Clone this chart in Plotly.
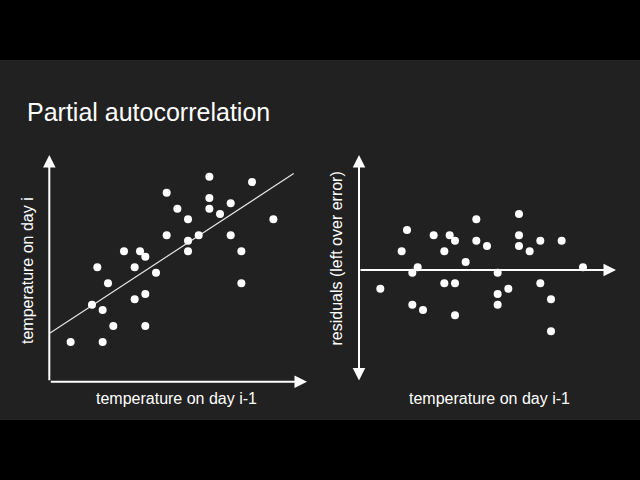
import plotly.graph_objects as go

# temperature on day i-1 (same x for both panels, arbitrary units)
temp_prev = [4, 8, 9, 10, 10, 11, 12, 14, 16, 16, 17, 18, 18, 18, 20, 22,
             22, 24, 26, 26, 26, 28, 30, 30, 30, 32, 34, 34, 36, 36, 38, 42]
# temperature on day i (left panel)
temp_today = [9, 16, 23, 9, 15, 20, 12, 26, 17, 23, 26, 12, 18, 25, 22, 29,
              37, 34, 28, 26, 32, 29, 40, 36, 34, 33, 35, 29, 26, 20, 39, 32]
# residuals (right panel)
residuals = [-3.5, 3.5, 7.5, -0.5, -6.5, 0.5, -7.5, 6.5, 3.5, -2.5, 6.5, 5.5,
             -2.5, -8.5, 1.5, 9.5, 5.5, 4.5, -0.5, -4.5, -6.5, -3.5, 10.5, 6.5,
             4.5, 3.5, 5.5, -2.5, -5.5, -11.5, 5.5, 0.5]
# fitted line
fit_x = [0, 45.8]
fit_y = [10.6, 40.6]

BG = "#212121"
FONT = "Liberation Sans, Arial, sans-serif"

fig = go.Figure()

fig.add_trace(go.Scatter(x=fit_x, y=fit_y, mode="lines",
                         line=dict(color="#e6e6e6", width=1.2),
                         xaxis="x", yaxis="y", hoverinfo="skip"))
fig.add_trace(go.Scatter(x=temp_prev, y=temp_today, mode="markers",
                         marker=dict(color="white", size=8),
                         xaxis="x", yaxis="y"))
fig.add_trace(go.Scatter(x=temp_prev, y=residuals, mode="markers",
                         marker=dict(color="white", size=8),
                         xaxis="x2", yaxis="y2"))

hidden = dict(visible=False, fixedrange=True)
fig.update_layout(
    width=640, height=480,
    margin=dict(l=0, r=0, t=0, b=0),
    paper_bgcolor="black",
    plot_bgcolor="rgba(0,0,0,0)",
    showlegend=False,
    font=dict(family=FONT, color="white"),
    xaxis=dict(domain=[49.3 / 640, 307 / 640], range=[0, 48.3], **hidden),
    yaxis=dict(domain=[1 - 381.7 / 480, 1 - 155 / 480], range=[1.56, 44.07], **hidden),
    xaxis2=dict(domain=[359 / 640, 616 / 640], range=[0, 48.19], **hidden),
    yaxis2=dict(domain=[1 - 382 / 480, 1 - 155 / 480], range=[-21.0, 21.56], **hidden),
)

# dark slide background between the letterbox bars
fig.add_shape(type="rect", xref="paper", yref="paper",
              x0=0, x1=1, y0=1 - 420 / 480, y1=1 - 60 / 480,
              fillcolor=BG, line_width=0, layer="below")

arrow = dict(text="", showarrow=True, arrowhead=2, arrowsize=1.25,
             arrowwidth=2, arrowcolor="white", standoff=0)

# left panel axes
fig.add_annotation(x=0, y=44.07, ax=0, ay=1.56, xref="x", yref="y",
                   axref="x", ayref="y", **arrow)
fig.add_annotation(x=48.3, y=1.56, ax=0, ay=1.56, xref="x", yref="y",
                   axref="x", ayref="y", **arrow)
# right panel axes
fig.add_annotation(x=0, y=21.56, ax=0, ay=-21.0, xref="x2", yref="y2",
                   axref="x2", ayref="y2", arrowside="end+start", **arrow)
fig.add_annotation(x=48.19, y=0, ax=0, ay=0, xref="x2", yref="y2",
                   axref="x2", ayref="y2", **arrow)

# texts
fig.add_annotation(text="Partial autocorrelation", xref="paper", yref="paper",
                   x=25 / 640, y=1 - 112 / 480, xanchor="left", yanchor="middle",
                   showarrow=False, font=dict(size=25, color="white"))
label = dict(xref="paper", yref="paper", showarrow=False,
             xanchor="center", yanchor="middle", font=dict(size=16, color="white"))
fig.add_annotation(text="temperature on day i-1", x=176.5 / 640, y=1 - 398 / 480, **label)
fig.add_annotation(text="temperature on day i-1", x=489.5 / 640, y=1 - 398 / 480, **label)
fig.add_annotation(text="temperature on day i", x=27 / 640, y=1 - 271 / 480,
                   textangle=-90, **label)
fig.add_annotation(text="residuals (left over error)", x=336 / 640, y=1 - 258.5 / 480,
                   textangle=-90, **label)

# the page's default body margin would shift the figure by 8px
fig.write_html("out.html", config={"displayModeBar": False},
               post_script="document.body.style.margin='0';"
                           "document.body.style.overflow='hidden';")
